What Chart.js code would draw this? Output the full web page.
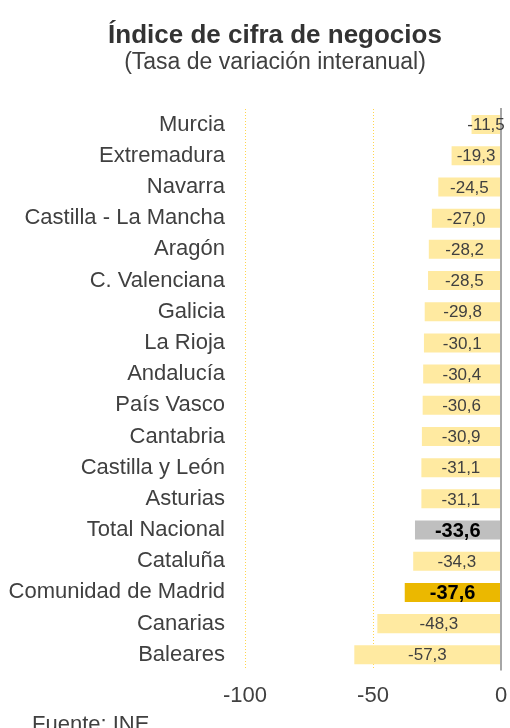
<!DOCTYPE html>
<html>
<head>
<meta charset="utf-8">
<script src="https://cdn.jsdelivr.net/npm/chart.js@4.4.0/dist/chart.umd.min.js"></script>
<style>
  html, body { margin: 0; padding: 0; background: #fff; }
  #wrap { width: 510px; height: 728px; position: relative; }
</style>
</head>
<body>
<div id="wrap"><canvas id="grafico"></canvas></div>
<script>
"use strict";

const regioes = ["Murcia", "Extremadura", "Navarra", "Castilla - La Mancha", "Aragón", "C. Valenciana", "Galicia", "La Rioja", "Andalucía", "País Vasco", "Cantabria", "Castilla y León", "Asturias", "Total Nacional", "Cataluña", "Comunidad de Madrid", "Canarias", "Baleares"];
const valores = [-11.5, -19.3, -24.5, -27.0, -28.2, -28.5, -29.8, -30.1, -30.4, -30.6, -30.9, -31.1, -31.1, -33.6, -34.3, -37.6, -48.3, -57.3];
const destaques = ["Total Nacional", "Comunidad de Madrid"];
const ticksX = [-100, -50, 0];

const corClara = "#FFEAA1";
const corTotal = "#BFBFBF";
const corMadrid = "#EBB800";

const cores = regioes.map((r) => (r === "Total Nacional" ? corTotal : r === "Comunidad de Madrid" ? corMadrid : corClara));

const FONTE = "'Liberation Sans', Arial, sans-serif";

// titulo, subtitulo e fonte
const textosPlugin = {
    id: "textos",
    afterDraw(chart) {
        const ctx = chart.ctx;
        ctx.save();
        ctx.textAlign = "center";
        ctx.textBaseline = "alphabetic";
        ctx.fillStyle = "#333333";
        ctx.font = `bold 26px ${FONTE}`;
        ctx.fillText("Índice de cifra de negocios", 275, 43);
        ctx.fillStyle = "#404040";
        ctx.font = `23px ${FONTE}`;
        ctx.fillText("(Tasa de variación interanual)", 275, 69);
        ctx.textAlign = "left";
        ctx.font = `22px ${FONTE}`;
        ctx.fillText("Fuente: INE", 32, 731);
        ctx.restore();
    },
};

// linha do zero + rotulos das barras
const rotulosPlugin = {
    id: "rotulos",
    afterDatasetsDraw(chart) {
        const ctx = chart.ctx;
        const xScale = chart.scales.x;
        const area = chart.chartArea;
        const x0 = xScale.getPixelForValue(0);
        ctx.save();
        ctx.strokeStyle = "#A6A6A6";
        ctx.lineWidth = 2;
        ctx.beginPath();
        ctx.moveTo(x0, area.top - 1);
        ctx.lineTo(x0, area.bottom);
        ctx.stroke();

        const meta = chart.getDatasetMeta(0);
        ctx.textAlign = "center";
        ctx.textBaseline = "middle";
        meta.data.forEach((bar, i) => {
            const destaque = destaques.includes(regioes[i]);
            ctx.font = destaque ? `bold 20px ${FONTE}` : `17px ${FONTE}`;
            ctx.fillStyle = destaque ? "#000000" : "#404040";
            const cx = (bar.x + bar.base) / 2;
            ctx.fillText(valores[i].toFixed(1).replace(".", ","), cx, bar.y + 1);
        });
        ctx.restore();
    },
};

const ctxGrafico = document.getElementById("grafico");

new Chart(ctxGrafico, {
    type: "bar",
    data: {
        labels: regioes,
        datasets: [
            {
                data: valores,
                backgroundColor: cores,
                barPercentage: 0.61,
                categoryPercentage: 1,
            },
        ],
    },
    options: {
        indexAxis: "y",
        responsive: true,
        maintainAspectRatio: false,
        animation: false,
        layout: {
            padding: { top: 109, right: 9, bottom: 0, left: 0 },
        },
        plugins: {
            legend: { display: false },
            tooltip: { enabled: false },
        },
        scales: {
            x: {
                min: -100,
                max: 0,
                afterBuildTicks(scale) {
                    scale.ticks = ticksX.map((v) => ({ value: v }));
                },
                afterFit(scale) {
                    scale.height = 728 - 109 - 561.4;
                    scale.paddingLeft = 0;
                    scale.paddingRight = 0;
                },
                grid: {
                    drawTicks: false,
                    color: (c) => (c.tick && c.tick.value === 0 ? "rgba(0,0,0,0)" : "#FFD54F"),
                    lineWidth: 1,
                },
                border: { display: false, dash: [1, 2] },
                ticks: {
                    padding: 12,
                    color: "#404040",
                    font: { family: FONTE, size: 22 },
                },
            },
            y: {
                afterFit(scale) {
                    scale.width = 245;
                },
                grid: { display: false, drawTicks: false },
                border: { display: false },
                ticks: {
                    padding: 20,
                    color: "#404040",
                    font: { family: FONTE, size: 22 },
                },
            },
        },
    },
    plugins: [textosPlugin, rotulosPlugin],
});
</script>
</body>
</html>
